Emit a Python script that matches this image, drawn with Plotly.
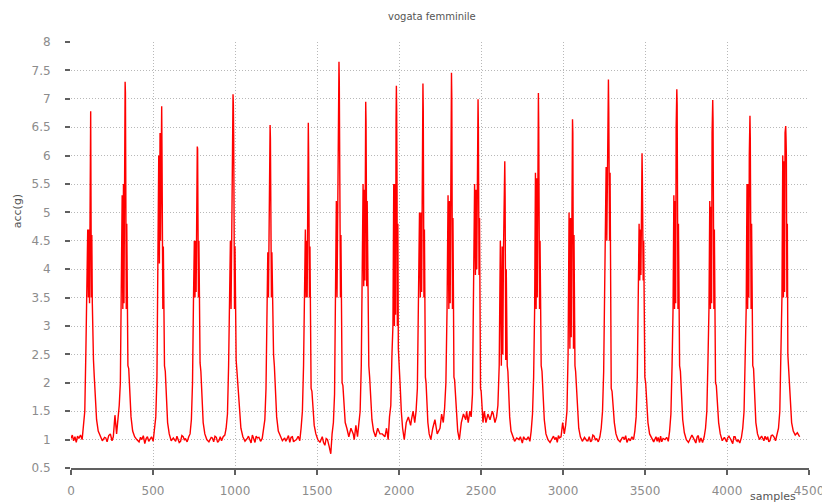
import plotly.graph_objects as go

# ---- data ----
# sample offsets (relative to each stroke's peak) at which values were read
stroke_offsets = [-72, -62, -52, -44, -36, -29, -23, -18, -14, -10, -7, -4, -2, 0,
                  2, 4, 7, 10, 13, 17, 22, 28, 36, 46, 58, 71, 85]

# peak sample position of each stroke
stroke_peaks = [120, 330, 553, 770, 990, 1218, 1447, 1636, 1799, 1986, 2148,
                2322, 2484, 2647, 2850, 3060, 3277, 3482, 3694, 3913, 4140, 4358]

# acceleration values (g) of each stroke at the offsets above
stroke_acc = [
    [1.02, 1.08, 1.0, 1.25, 1.5, 2.6, 4.0, 4.7, 3.5, 4.7, 3.4, 4.8, 5.6, 6.78, 5.2, 3.5, 4.6, 3.4, 2.5, 2.4, 2.1, 1.7, 1.35, 1.15, 1.05, 0.98, 1.04],
    [1.05, 1.43, 1.1, 1.3, 1.6, 2.0, 3.4, 5.3, 3.3, 5.5, 3.4, 6.5, 7.15, 7.30, 7.1, 5.3, 3.3, 4.8, 2.6, 2.3, 2.25, 1.8, 1.4, 1.15, 1.05, 1.0, 0.96],
    [1.0, 1.05, 0.97, 1.15, 1.4, 2.1, 4.0, 6.0, 4.1, 6.4, 4.5, 6.0, 6.8, 6.87, 6.0, 4.1, 3.3, 4.4, 3.0, 2.3, 2.2, 1.8, 1.3, 1.1, 0.98, 1.03, 0.97],
    [1.02, 0.96, 1.05, 1.1, 1.35, 2.0, 3.5, 4.5, 3.5, 4.5, 3.6, 5.0, 6.1, 6.16, 6.12, 5.0, 3.5, 4.5, 2.8, 2.35, 2.2, 1.7, 1.3, 1.1, 1.0, 0.96, 1.04],
    [0.98, 1.05, 1.08, 1.2, 1.45, 2.3, 3.5, 4.5, 3.3, 4.5, 6.0, 7.0, 7.08, 6.9, 6.3, 4.5, 3.3, 4.4, 2.5, 2.4, 2.2, 1.9, 1.6, 1.2, 1.05, 0.97, 1.02],
    [1.04, 0.97, 1.02, 1.15, 1.35, 1.9, 3.0, 4.3, 3.5, 5.5, 6.2, 6.54, 6.3, 5.5, 4.3, 3.5, 4.3, 3.4, 2.7, 2.5, 2.3, 1.8, 1.4, 1.15, 1.05, 0.98, 1.03],
    [1.0, 1.06, 0.98, 1.2, 1.5, 2.3, 3.6, 4.7, 3.5, 4.5, 3.5, 5.5, 6.2, 6.58, 6.0, 4.5, 3.5, 4.4, 2.4, 1.9, 1.85, 1.5, 1.25, 1.1, 1.0, 0.95, 1.05],
    [1.0, 0.88, 0.75, 1.1, 1.3, 1.8, 3.5, 5.2, 3.5, 5.0, 6.5, 7.4, 7.65, 7.3, 6.5, 5.2, 3.5, 4.6, 2.5, 2.0, 1.95, 1.6, 1.3, 1.2, 1.05, 1.2, 1.1],
    [1.0, 1.25, 1.05, 1.3, 1.5, 2.3, 3.7, 5.5, 3.7, 5.4, 3.8, 6.5, 6.95, 6.6, 5.5, 3.7, 5.2, 3.8, 2.6, 2.3, 2.1, 1.7, 1.35, 1.15, 1.05, 1.2, 1.1],
    [1.05, 1.2, 1.0, 1.4, 1.6, 2.5, 3.0, 5.5, 3.0, 5.5, 3.2, 6.6, 7.23, 6.8, 5.5, 3.0, 4.8, 2.6, 2.35, 2.3, 1.9, 1.5, 1.2, 1.0, 1.3, 1.4, 1.25],
    [1.35, 1.5, 1.3, 1.5, 1.9, 3.5, 5.0, 3.5, 5.0, 3.6, 6.0, 7.1, 7.27, 6.8, 5.0, 3.5, 4.7, 3.0, 2.1, 2.0, 1.7, 1.3, 1.1, 1.0, 1.2, 1.35, 1.1],
    [1.2, 1.45, 1.3, 1.55, 2.0, 3.3, 5.3, 3.3, 5.2, 3.4, 6.4, 7.3, 7.46, 7.0, 5.3, 3.3, 4.9, 3.0, 2.1, 2.05, 1.8, 1.4, 1.15, 1.0, 1.3, 1.45, 1.35],
    [1.5, 1.3, 1.5, 1.4, 1.8, 3.9, 5.5, 3.9, 5.4, 4.0, 6.3, 6.8, 6.99, 6.5, 5.5, 3.9, 4.9, 2.8, 1.9, 1.85, 1.6, 1.3, 1.5, 1.3, 1.45, 1.35, 1.5],
    [1.45, 1.3, 1.4, 1.6, 2.3, 4.5, 2.3, 4.4, 2.5, 4.3, 5.0, 5.6, 5.90, 5.3, 4.5, 2.4, 4.0, 2.5, 2.3, 2.2, 1.8, 1.4, 1.15, 1.05, 0.97, 1.03, 1.0],
    [1.0, 1.05, 0.97, 1.15, 1.45, 2.1, 3.3, 5.7, 3.3, 5.6, 3.5, 6.6, 7.0, 7.10, 6.5, 5.7, 3.3, 4.5, 2.5, 2.3, 2.2, 1.8, 1.35, 1.1, 1.0, 0.95, 1.03],
    [1.05, 1.3, 1.1, 1.25, 1.5, 2.5, 5.0, 2.6, 4.9, 2.8, 5.5, 6.3, 6.64, 6.4, 5.0, 2.6, 4.6, 2.5, 2.3, 2.2, 1.9, 1.5, 1.2, 1.05, 0.97, 1.04, 0.98],
    [1.02, 0.96, 1.05, 1.2, 1.5, 2.2, 3.5, 4.5, 5.8, 4.5, 5.8, 6.5, 7.2, 7.34, 6.8, 5.8, 4.5, 5.7, 3.0, 1.9, 1.85, 1.55, 1.3, 1.1, 1.0, 0.96, 1.04],
    [0.98, 1.05, 1.0, 1.15, 1.4, 2.1, 3.8, 4.8, 3.8, 4.7, 3.9, 5.5, 6.0, 6.04, 5.6, 4.8, 3.8, 4.5, 2.6, 2.1, 2.0, 1.6, 1.3, 1.1, 1.02, 0.96, 1.05],
    [1.0, 1.04, 0.97, 1.15, 1.45, 2.3, 3.3, 5.3, 3.3, 5.2, 3.4, 6.5, 7.1, 7.17, 6.9, 5.3, 3.3, 4.8, 2.6, 2.3, 2.2, 1.8, 1.35, 1.12, 1.0, 0.95, 1.02],
    [1.03, 0.95, 1.05, 1.2, 1.5, 2.4, 3.3, 5.2, 3.3, 5.1, 3.4, 6.4, 6.9, 6.98, 6.6, 5.2, 3.3, 4.7, 2.4, 2.0, 1.95, 1.6, 1.3, 1.1, 0.98, 1.04, 0.96],
    [1.0, 0.94, 1.04, 1.2, 1.5, 2.3, 3.3, 5.5, 3.3, 5.5, 3.5, 6.0, 6.6, 6.70, 6.3, 5.5, 3.3, 4.8, 2.5, 2.3, 2.25, 1.8, 1.3, 1.1, 1.0, 1.06, 0.98],
    [1.05, 0.98, 1.08, 1.2, 1.5, 2.3, 3.5, 6.0, 3.5, 5.9, 3.6, 6.4, 6.5, 6.52, 6.3, 6.0, 3.5, 4.8, 2.5, 2.3, 2.2, 1.7, 1.3, 1.15, 1.08, 1.12, 1.05],
]

# baseline samples between strokes (rest phase)
rest_samples = [0, 8, 16, 24, 32, 40, 212, 220, 230, 240, 250, 424, 432, 441, 450,
                458, 466, 474, 646, 652, 660, 668, 676, 684, 692, 862, 870, 878,
                886, 894, 902, 910, 1082, 1090, 1098, 1106, 1114, 1122, 1129,
                1136, 1310, 1318, 1326, 1334, 1342, 1350, 1357, 1364, 1540, 1548,
                1556, 1898, 2740, 2745, 2752, 2760, 2768, 2942, 2950, 2958, 2965,
                2972, 2978, 3152, 3160, 3168, 3175, 3182, 3190, 3198, 3368, 3375,
                3382, 3390, 3400, 3574, 3580, 3588, 3595, 3602, 3610, 3786, 3795,
                3802, 3810, 3818, 3825, 3832, 4004, 4012, 4020, 4028, 4035, 4042,
                4049, 4056, 4062, 4232, 4240, 4248, 4255, 4262, 4270, 4278]
rest_acc = [1.02, 1.08, 0.98, 1.05, 0.95, 1.06, 1.03, 0.96, 1.07, 1.1, 0.98, 1.04,
            1.0, 1.07, 0.93, 1.02, 1.05, 0.97, 1.06, 1.02, 0.95, 0.97, 1.07, 1.05,
            0.99, 1.03, 0.96, 1.06, 1.04, 0.95, 0.98, 1.05, 1.06, 1.0, 0.94, 1.08,
            1.01, 0.95, 1.06, 1.03, 0.97, 1.02, 1.07, 0.95, 1.04, 1.05, 0.96, 0.98,
            0.95, 0.9, 1.02, 1.1, 1.05, 1.0, 0.94, 1.05, 1.01, 1.06, 1.0, 1.04,
            0.95, 1.07, 1.03, 0.98, 1.05, 0.96, 0.98, 1.08, 1.06, 0.99, 1.04, 1.0,
            1.07, 0.95, 1.02, 0.97, 1.04, 0.95, 1.06, 0.96, 1.02, 1.08, 1.03, 0.98,
            0.94, 1.05, 1.07, 0.95, 1.03, 1.06, 1.02, 0.96, 0.93, 1.05, 1.05, 0.99,
            0.97, 1.06, 1.0, 1.05, 0.96, 0.98, 1.07, 1.08, 1.0]

x_ticks = [0, 500, 1000, 1500, 2000, 2500, 3000, 3500, 4000, 4500]
y_ticks = [0.5, 1, 1.5, 2, 2.5, 3, 3.5, 4, 4.5, 5, 5.5, 6, 6.5, 7, 7.5, 8]

# ---- assemble the series ----
points = list(zip(rest_samples, rest_acc))
for peak, vals in zip(stroke_peaks, stroke_acc):
    for off, v in zip(stroke_offsets, vals):
        points.append((peak + off, v))
points.sort(key=lambda p: p[0])
xs = [p[0] for p in points]
ys = [p[1] for p in points]

fig = go.Figure()
fig.add_trace(go.Scatter(x=xs, y=ys, mode="lines",
                         line=dict(color="#ff0000", width=1.4),
                         showlegend=False, hoverinfo="skip"))

tick_font = dict(family="DejaVu Sans", size=12, color="#8c8c8c")
grid_dash = "1px,2px"
fig.update_layout(
    width=822, height=502,
    margin=dict(l=71, r=13, t=42, b=34),
    paper_bgcolor="white", plot_bgcolor="white",
    xaxis=dict(range=[0, 4500], tickvals=x_ticks, ticktext=[str(v) for v in x_ticks],
               showgrid=True, gridcolor="#b8b8b8", griddash=grid_dash, gridwidth=1,
               zeroline=False, showline=True, linecolor="#606060", linewidth=1.5,
               ticks="outside", ticklen=5, tickcolor="#606060", tickwidth=1.5,
               tickfont=tick_font, ticklabelstandoff=6, automargin=False,
               ticklabeloverflow="allow"),
    yaxis=dict(range=[0.5, 8], tickvals=y_ticks, ticktext=[f"{v:g}" for v in y_ticks],
               showgrid=True, gridcolor="#b8b8b8", griddash=grid_dash, gridwidth=1,
               zeroline=False, showline=False,
               ticks="outside", ticklen=5, tickcolor="#606060", tickwidth=1.5,
               tickfont=tick_font, ticklabelstandoff=12, automargin=False,
               ticklabeloverflow="allow"),
    annotations=[
        dict(text="vogata femminile", xref="paper", yref="paper", x=0.489, y=1.0587,
             xanchor="center", yanchor="middle", showarrow=False,
             font=dict(family="DejaVu Sans", size=10, color="#555555")),
        dict(text="acc(g)", xref="paper", yref="paper", x=-0.073, y=0.603,
             xanchor="center", yanchor="middle", showarrow=False, textangle=-90,
             font=dict(family="DejaVu Sans", size=11, color="#555555")),
        dict(text="samples", xref="paper", yref="paper", x=0.951, y=-0.066,
             xanchor="center", yanchor="middle", showarrow=False,
             font=dict(family="DejaVu Sans", size=11, color="#555555")),
    ],
)

fig.write_html("out.html")
